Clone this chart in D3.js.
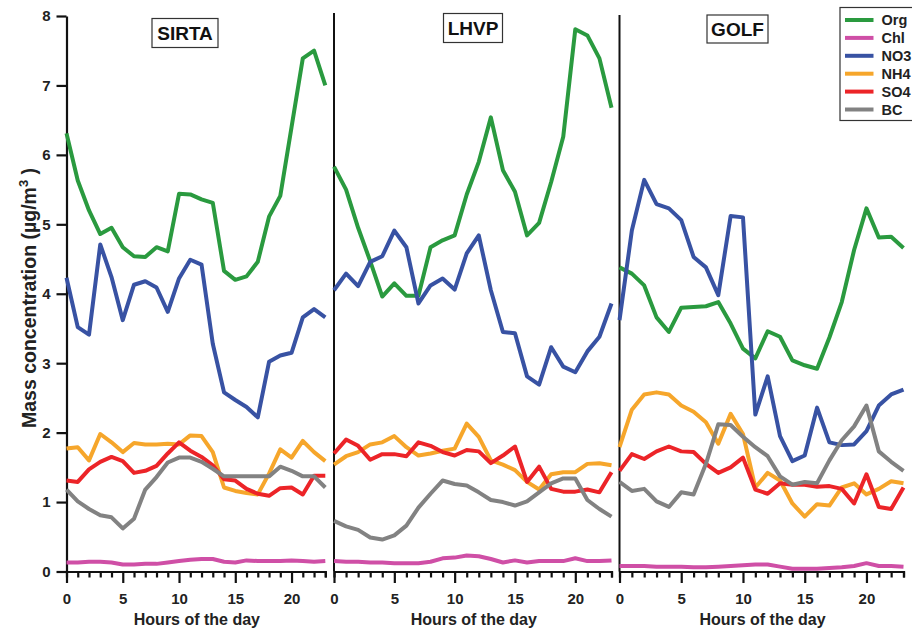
<!DOCTYPE html>
<html>
<head>
<meta charset="utf-8">
<script src="https://cdn.jsdelivr.net/npm/d3@7"></script>
<style>
  html, body { margin: 0; padding: 0; background: #fff; }
  svg { display: block; font-family: "Liberation Sans", Arial, sans-serif; font-weight: bold; }
</style>
</head>
<body>
<svg id="chart" width="912" height="629"></svg>
<script>
// ---------------- DATA ----------------
const hours = d3.range(24);
const species = ["Org", "Chl", "NO3", "NH4", "SO4", "BC"];
const speciesColors = ["#2a9a3f", "#cf4fa6", "#3852a3", "#f6a62b", "#ec2428", "#828282"];
const sites = ["SIRTA", "LHVP", "GOLF"];
const yTicks = [0, 1, 2, 3, 4, 5, 6, 7, 8];
const xTickLabels = [0, 5, 10, 15, 20];

// SIRTA
const sirtaOrg = [6.31,5.63,5.20,4.86,4.95,4.67,4.54,4.53,4.67,4.61,5.44,5.43,5.36,5.31,4.33,4.20,4.25,4.46,5.11,5.41,6.40,7.39,7.50,7.00];
const sirtaChl = [0.13,0.13,0.14,0.14,0.13,0.10,0.10,0.11,0.11,0.13,0.15,0.17,0.18,0.18,0.14,0.13,0.16,0.15,0.15,0.15,0.16,0.15,0.14,0.15];
const sirtaNO3 = [4.23,3.52,3.41,4.71,4.24,3.62,4.13,4.18,4.09,3.74,4.22,4.49,4.42,3.28,2.58,2.47,2.37,2.22,3.02,3.11,3.15,3.66,3.78,3.66];
const sirtaNH4 = [1.77,1.79,1.60,1.98,1.86,1.72,1.85,1.83,1.83,1.84,1.83,1.96,1.95,1.72,1.21,1.16,1.13,1.11,1.41,1.76,1.64,1.88,1.72,1.59];
const sirtaSO4 = [1.31,1.29,1.47,1.58,1.65,1.59,1.42,1.45,1.52,1.70,1.86,1.74,1.65,1.53,1.33,1.31,1.19,1.12,1.09,1.20,1.21,1.11,1.38,1.38];
const sirtaBC  = [1.18,1.01,0.90,0.81,0.78,0.62,0.76,1.18,1.36,1.57,1.64,1.64,1.58,1.48,1.37,1.37,1.37,1.37,1.37,1.51,1.45,1.37,1.37,1.21];

// LHVP
const lhvpOrg = [5.83,5.50,4.95,4.47,3.96,4.15,3.97,3.97,4.67,4.77,4.84,5.43,5.90,6.54,5.78,5.47,4.84,5.02,5.61,6.26,7.81,7.72,7.39,6.68];
const lhvpChl = [0.15,0.14,0.14,0.13,0.13,0.12,0.12,0.12,0.14,0.19,0.20,0.23,0.22,0.18,0.13,0.16,0.13,0.15,0.15,0.15,0.19,0.15,0.15,0.16];
const lhvpNO3 = [4.05,4.29,4.11,4.46,4.54,4.91,4.67,3.86,4.12,4.22,4.06,4.58,4.84,4.05,3.45,3.43,2.81,2.69,3.23,2.95,2.87,3.17,3.38,3.86];
const lhvpNH4 = [1.54,1.66,1.72,1.83,1.86,1.95,1.79,1.67,1.70,1.74,1.77,2.13,1.94,1.60,1.54,1.46,1.29,1.18,1.40,1.43,1.43,1.55,1.56,1.53];
const lhvpSO4 = [1.70,1.90,1.81,1.61,1.69,1.69,1.66,1.86,1.81,1.72,1.67,1.75,1.73,1.56,1.67,1.80,1.29,1.51,1.19,1.15,1.15,1.18,1.14,1.43];
const lhvpBC  = [0.73,0.65,0.60,0.49,0.46,0.52,0.66,0.92,1.12,1.31,1.26,1.24,1.14,1.03,1.00,0.95,1.01,1.14,1.27,1.34,1.34,1.03,0.90,0.79];

// GOLF
const golfOrg = [4.38,4.29,4.12,3.66,3.45,3.80,3.81,3.82,3.88,3.57,3.21,3.07,3.46,3.38,3.04,2.97,2.92,3.37,3.88,4.63,5.23,4.81,4.82,4.66];
const golfChl = [0.08,0.08,0.08,0.07,0.07,0.07,0.06,0.06,0.07,0.08,0.09,0.10,0.10,0.07,0.04,0.04,0.04,0.05,0.06,0.08,0.12,0.08,0.08,0.07];
const golfNO3 = [3.62,4.91,5.64,5.29,5.23,5.06,4.53,4.38,3.98,5.12,5.10,2.26,2.81,1.95,1.59,1.67,2.36,1.86,1.82,1.83,2.02,2.39,2.55,2.62];
const golfNH4 = [1.79,2.33,2.55,2.58,2.55,2.39,2.30,2.15,1.84,2.27,1.98,1.21,1.42,1.31,0.98,0.79,0.97,0.95,1.21,1.27,1.11,1.19,1.30,1.27];
const golfSO4 = [1.45,1.69,1.62,1.73,1.80,1.73,1.72,1.55,1.42,1.50,1.64,1.18,1.12,1.27,1.25,1.25,1.22,1.23,1.19,0.98,1.40,0.93,0.90,1.21];
const golfBC  = [1.29,1.16,1.19,1.01,0.93,1.14,1.11,1.55,2.12,2.11,1.94,1.79,1.66,1.37,1.25,1.29,1.27,1.60,1.89,2.09,2.39,1.73,1.58,1.45];

const siteSeries = [
  [sirtaOrg, sirtaChl, sirtaNO3, sirtaNH4, sirtaSO4, sirtaBC],
  [lhvpOrg, lhvpChl, lhvpNO3, lhvpNH4, lhvpSO4, lhvpBC],
  [golfOrg, golfChl, golfNO3, golfNH4, golfSO4, golfBC]
];

// ---------------- LAYOUT ----------------
const svg = d3.select("#chart");
const yTop = 16, yBottom = 571.5;
const y = d3.scaleLinear().domain([0, 8]).range([yBottom, yTop]);

const panels = [
  { x0: 66.5, x1: 325.3, lineTop: 16,  box: [152, 18.5, 66, 29] },
  { x0: 334,  x1: 611.5, lineTop: 13,  box: [443.5, 13.5, 59, 29] },
  { x0: 619.5, x1: 903.5, lineTop: 15, box: [707, 15, 61, 28] }
];

const line = (xs) => d3.line().x((d, i) => xs(hours[i])).y(d => y(d));

panels.forEach((p, pi) => {
  const x = d3.scaleLinear().domain([0, 23]).range([p.x0, p.x1]);
  const g = svg.append("g");

  if (pi === 0) {
    const ya = d3.axisLeft(y).tickValues(yTicks).tickSize(10).tickSizeOuter(0).tickPadding(6).tickFormat(d3.format("d"));
    const ga = g.append("g").attr("transform", `translate(${p.x0},0)`).call(ya);
    ga.select(".domain").attr("stroke", "#111").attr("stroke-width", 2.2);
    ga.selectAll(".tick line").attr("stroke", "#111").attr("stroke-width", 2.2);
    ga.selectAll(".tick text").attr("font-size", 15).attr("font-weight", "bold").attr("fill", "#222")
      .attr("font-family", "Liberation Sans, Arial, sans-serif");
  } else {
    g.append("line").attr("x1", p.x0).attr("x2", p.x0).attr("y1", p.lineTop).attr("y2", yBottom)
      .attr("stroke", "#111").attr("stroke-width", 2);
  }

  const xa = d3.axisBottom(x).tickValues(hours).tickSizeOuter(0).tickSize(6)
    .tickFormat(d => xTickLabels.includes(d) ? d : "");
  const gx = g.append("g").attr("transform", `translate(0,${yBottom})`).call(xa);
  gx.select(".domain").attr("stroke", "#111").attr("stroke-width", 2.2);
  gx.selectAll(".tick line").attr("stroke", "#111").attr("stroke-width", 2.2)
    .attr("y2", d => xTickLabels.includes(d) ? 11.5 : 6);
  gx.selectAll(".tick text").attr("font-size", 15).attr("font-weight", "bold").attr("fill", "#222")
    .attr("font-family", "Liberation Sans, Arial, sans-serif").attr("y", 22);

  g.append("text").attr("x", (p.x0 + p.x1) / 2 + 1).attr("y", 625)
    .attr("text-anchor", "middle").attr("font-size", 16).attr("fill", "#222")
    .text("Hours of the day");

  siteSeries[pi].forEach((vals, si) => {
    g.append("path").datum(vals)
      .attr("d", line(x))
      .attr("fill", "none")
      .attr("stroke", speciesColors[si])
      .attr("stroke-width", 4)
      .attr("stroke-linejoin", "round");
  });

  const [bx, by, bw, bh] = p.box;
  g.append("rect").attr("x", bx).attr("y", by).attr("width", bw).attr("height", bh)
    .attr("fill", "#fff").attr("stroke", "#333").attr("stroke-width", 1.2);
  g.append("text").attr("x", bx + bw / 2).attr("y", by + bh / 2 + 7)
    .attr("text-anchor", "middle").attr("font-size", 19).attr("fill", "#111")
    .text(sites[pi]);
});

// y-axis label
const yl = svg.append("text")
  .attr("transform", "translate(36,298) rotate(-90)")
  .attr("text-anchor", "middle").attr("font-size", 19.5).attr("fill", "#222");
yl.append("tspan").text("Mass concentration (µg/m");
yl.append("tspan").attr("dy", -8).attr("font-size", 13).text("3");
yl.append("tspan").attr("dy", 8).text(" )");

// legend
const lg = svg.append("g");
lg.append("rect").attr("x", 840).attr("y", 7.5).attr("width", 80).attr("height", 113)
  .attr("fill", "#fff").attr("stroke", "#333").attr("stroke-width", 1.2);
species.forEach((s, i) => {
  const cy = 20 + i * 17.9;
  lg.append("line").attr("x1", 845).attr("x2", 873.5).attr("y1", cy).attr("y2", cy)
    .attr("stroke", speciesColors[i]).attr("stroke-width", 4);
  lg.append("text").attr("x", 881.5).attr("y", cy + 5.2).attr("font-size", 14.5).attr("fill", "#222").text(s);
});
</script>
</body>
</html>
